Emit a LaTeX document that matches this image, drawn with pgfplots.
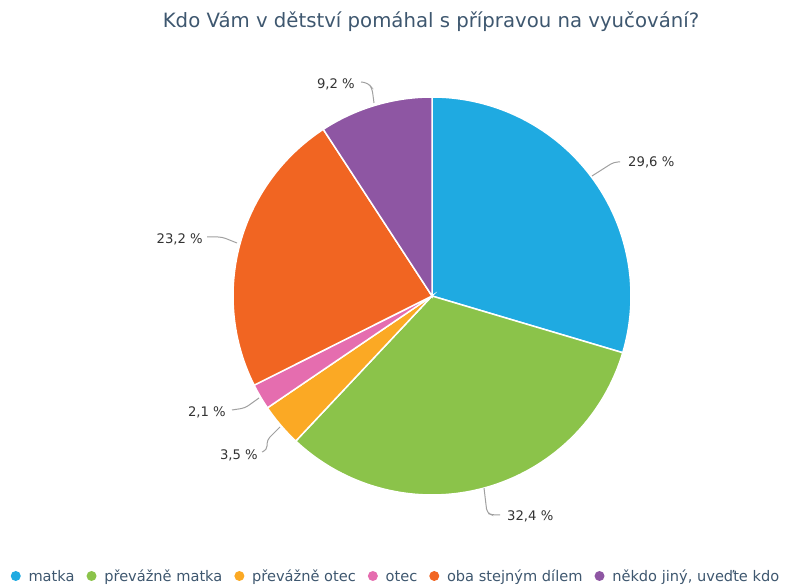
\documentclass[border=0pt]{standalone}
\usepackage{pgfplots}
\pgfplotsset{compat=1.18}
\usepackage{fontspec}
\setmainfont{DejaVu Sans}
\definecolor{cA}{HTML}{1FAAE1}
\definecolor{cB}{HTML}{8BC34A}
\definecolor{cC}{HTML}{FBA924}
\definecolor{cD}{HTML}{E56DAF}
\definecolor{cE}{HTML}{F16522}
\definecolor{cF}{HTML}{8E56A3}
\definecolor{titlec}{HTML}{3E576F}
\definecolor{labc}{HTML}{333333}
\definecolor{connc}{HTML}{A0A0A0}
% shares in percent
\def\vA{29.6}\def\vB{32.4}\def\vC{3.5}\def\vD{2.1}\def\vE{23.2}\def\vF{9.2}
\pgfmathsetmacro\aA{90}
\pgfmathsetmacro\aB{\aA-3.6*\vA}
\pgfmathsetmacro\aC{\aB-3.6*\vB}
\pgfmathsetmacro\aD{\aC-3.6*\vC}
\pgfmathsetmacro\aE{\aD-3.6*\vD}
\pgfmathsetmacro\aF{\aE-3.6*\vE}
\pgfmathsetmacro\aG{\aF-3.6*\vF}
\def\R{199}
\begin{document}
\begin{tikzpicture}
\begin{axis}[
  width=786pt, height=585pt, scale only axis,
  xmin=-432, xmax=354, ymin=-289, ymax=296,
  hide axis, clip=false,
  legend columns=6,
  legend style={at={(axis cs:-36,-282)}, anchor=center, draw=none, fill=none,
    font=\fontsize{14.6}{16}\selectfont, text=titlec,
    nodes={text height=10.5pt, text depth=3pt},
    /tikz/every even column/.append style={column sep=10pt},
    /tikz/every odd column/.append style={column sep=0pt}},
  legend image code/.code={\fill[#1,draw=none] (0pt,2pt) circle (5pt); \path (10pt,0pt);},
]
\addplot[fill=cA, draw=white, line width=1.5pt, domain=\aB:\aA, samples=80] ({\R*cos(x)},{\R*sin(x)}) -- (axis cs:0,0) -- cycle;
\addlegendentry{matka}
\addplot[fill=cB, draw=white, line width=1.5pt, domain=\aC:\aB, samples=80] ({\R*cos(x)},{\R*sin(x)}) -- (axis cs:0,0) -- cycle;
\addlegendentry{převážně matka}
\addplot[fill=cC, draw=white, line width=1.5pt, domain=\aD:\aC, samples=20] ({\R*cos(x)},{\R*sin(x)}) -- (axis cs:0,0) -- cycle;
\addlegendentry{převážně otec}
\addplot[fill=cD, draw=white, line width=1.5pt, domain=\aE:\aD, samples=20] ({\R*cos(x)},{\R*sin(x)}) -- (axis cs:0,0) -- cycle;
\addlegendentry{otec}
\addplot[fill=cE, draw=white, line width=1.5pt, domain=\aF:\aE, samples=80] ({\R*cos(x)},{\R*sin(x)}) -- (axis cs:0,0) -- cycle;
\addlegendentry{oba stejným dílem}
\addplot[fill=cF, draw=white, line width=1.5pt, domain=\aG:\aF, samples=40] ({\R*cos(x)},{\R*sin(x)}) -- (axis cs:0,0) -- cycle;
\addlegendentry{někdo jiný, uveďte kdo}
% connectors
\addplot[connc, line width=1pt, rounded corners=4pt, forget plot] coordinates {(160,120) (182,134) (188,134)};
\addplot[connc, line width=1pt, rounded corners=4pt, forget plot] coordinates {(52,-192) (55,-217) (60,-219) (68,-219)};
\addplot[connc, line width=1pt, rounded corners=4pt, forget plot] coordinates {(-152,-131) (-165,-144) (-165,-154) (-170,-156)};
\addplot[connc, line width=1pt, rounded corners=4pt, forget plot] coordinates {(-173,-102) (-187,-112) (-200,-114)};
\addplot[connc, line width=1pt, rounded corners=4pt, forget plot] coordinates {(-195,53) (-210,59) (-225,59)};
\addplot[connc, line width=1pt, rounded corners=4pt, forget plot] coordinates {(-58,193) (-60,208) (-64,213) (-71,214)};
% labels
\begin{scope}[every node/.style={font=\fontsize{13.2}{15}\selectfont, text=labc, inner sep=0pt}]
\node[anchor=west] at (axis cs:196,134) {29,6 \%};
\node[anchor=west] at (axis cs:75,-220) {32,4 \%};
\node[anchor=east] at (axis cs:-174,-159) {3,5 \%};
\node[anchor=east] at (axis cs:-206,-116) {2,1 \%};
\node[anchor=east] at (axis cs:-229,57) {23,2 \%};
\node[anchor=east] at (axis cs:-77,212) {9,2 \%};
\end{scope}
\node[font=\fontsize{19.7}{22}\selectfont, text=titlec] at (axis cs:-1,274) {Kdo Vám v dětství pomáhal s přípravou na vyučování?};
\end{axis}
\pgfresetboundingbox
\path[use as bounding box] (current axis.south west) rectangle (current axis.north east);
\end{tikzpicture}
\end{document}
